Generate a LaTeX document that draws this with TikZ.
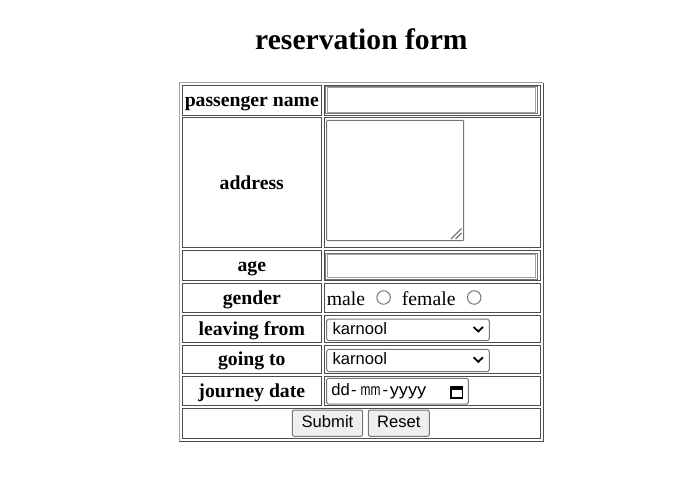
\documentclass[tikz,border=0pt]{standalone}
\usepackage{fontspec}
\setmainfont{Liberation Serif}
\newfontfamily\uifont{Liberation Sans}
\definecolor{tablelight}{HTML}{A0A0A0}
\definecolor{tabledark}{HTML}{4D4D4D}
\definecolor{ctrlline}{HTML}{767676}
\definecolor{btnfill}{HTML}{EFEFEF}
\begin{document}
\begin{tikzpicture}[x=1pt,y=-1pt,
	cellline/.style={draw=tabledark,line width=1pt},
	ctrlbox/.style={draw=ctrlline,line width=1pt,fill=white},
	rowlabel/.style={anchor=base,inner sep=0pt,font=\fontsize{19.7}{22}\selectfont\bfseries},
	plaintext/.style={anchor=base west,inner sep=0pt,font=\fontsize{19.7}{22}\selectfont},
	uitext/.style={anchor=base west,inner sep=0pt,font=\uifont\fontsize{16.6}{19}\selectfont}]
		\useasboundingbox (0,0) rectangle (698,489);
		
		\node[anchor=base,inner sep=0pt,font=\fontsize{29.6}{34}\selectfont\bfseries] (title) at (361.4,50) {reservation form};
		
		% draw outer border of table
		\draw[tablelight,line width=1pt] (179.3,441) -- (179.3,82.7) -- (543.3,82.7);
		\draw[tabledark,line width=1pt] (543.3,82.7) -- (543.3,441) -- (179.3,441);
		
		% draw cells of rows 1 to 7
		\foreach \top/\bot in {85.3/115.3,118/247.3,250/280.7,283.3/312.7,315/342.3,345/373.3,376/405.7}
		{
			\draw[cellline] (182,\top) rectangle (321.7,\bot);
			\draw[cellline] (324.3,\top) rectangle (540.6,\bot);
		}
		
		% draw last row (buttons)
		\draw[cellline] (182,408.3) rectangle (540.6,438.3);
		
		% draw labels
		\foreach \name/\y [count=\i] in {passenger name/107,address/189.5,age/271.8,gender/304.6,leaving from/335.2,going to/365.8,journey date/397.3}
		{
			\node[rowlabel] (lab-\i) at (251.8,\y) {\name};
		}
		
		% draw text fields (passenger name, age)
		\foreach \top/\bot [count=\i] in {86.3/113.7,253.3/279}
		{
			\draw[ctrlline,line width=1pt] (325.7,\top) rectangle (537,\bot);
			\draw[tablelight,line width=1pt] (327.2,\top + 1.5) rectangle (535.5,\bot - 1.5);
		}
		
		% draw textarea with grip
		\draw[ctrlbox,rounded corners=1pt] (326.7,120.3) rectangle (463.7,240.7);
		\draw[ctrlline,line width=1.2pt] (451,239) -- (461.5,228.5);
		\draw[ctrlline,line width=1.2pt] (455.5,239) -- (461.5,233);
		
		% draw radio buttons
		\node[plaintext] (male) at (326.7,305.6) {male};
		\node[plaintext] (female) at (401.7,305.6) {female};
		\node (radio-1) at (383.6,297.5) [circle,draw=ctrlline,line width=1pt,minimum size=13.5pt,inner sep=0pt] {};
		\node (radio-2) at (474.2,297.5) [circle,draw=ctrlline,line width=1pt,minimum size=13.5pt,inner sep=0pt] {};
		
		% draw select boxes with chevron
		\foreach \top/\bot/\base [count=\i] in {319/340.7/334.3,349.3/371.7/364.3}
		{
			\draw[ctrlbox,rounded corners=2.5pt] (326.7,\top) rectangle (489.3,\bot);
			\node[uitext] (sel-\i) at (332.3,\base) {karnool};
			\draw[black,line width=1.8pt] (473.6,\top + 8) -- (478.3,\top + 12.5) -- (483,\top + 8);
		}
		
		% draw date field with calendar icon
		\draw[ctrlbox,rounded corners=1.5pt] (326.7,378.3) rectangle (468.3,404);
		\node[uitext] (day) at (331.2,395) {dd};
		\node[uitext] (dash-1) at (350.8,395) {-};
		\node[uitext,xscale=0.72] (month) at (360.6,395) {mm};
		\node[uitext] (dash-2) at (382.4,395) {-};
		\node[uitext,xscale=1.1] (year) at (389.6,395) {yyyy};
		\draw[black,line width=1.5pt] (451.2,386.8) rectangle (462.3,397.8);
		\fill[black] (451.2,386.8) rectangle (462.3,389.6);
		
		% draw buttons
		\draw[draw=ctrlline,fill=btnfill,line width=1pt,rounded corners=2pt] (292.3,410) rectangle (362.7,436.3);
		\node[uitext,anchor=base] (submit) at (327.5,427.3) {Submit};
		\draw[draw=ctrlline,fill=btnfill,line width=1pt,rounded corners=2pt] (368.3,410) rectangle (429.3,436.3);
		\node[uitext,anchor=base] (reset) at (398.8,427.3) {Reset};
	\end{tikzpicture}
\end{document}
